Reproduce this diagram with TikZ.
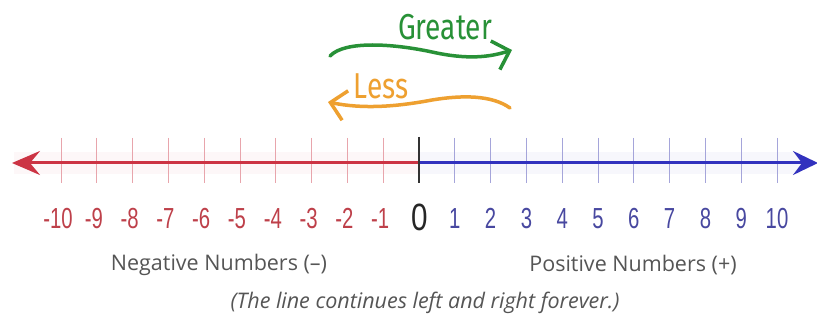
\documentclass[tikz,border=0pt]{standalone}
\usepackage{fontspec}
\setmainfont{Open Sans}
\newfontfamily\numfont[FakeStretch=0.7]{Liberation Sans}
\newfontfamily\zerofont[FakeStretch=0.78]{Liberation Sans}
\newfontfamily\wordfont[FakeStretch=0.78]{Fira Sans}
\usetikzlibrary{arrows.meta}
\definecolor{negred}{RGB}{204,52,68}
\definecolor{posblue}{RGB}{50,50,190}
\definecolor{negtick}{RGB}{232,165,172}
\definecolor{postick}{RGB}{165,165,218}
\definecolor{neglab}{RGB}{190,64,74}
\definecolor{poslab}{RGB}{72,72,160}
\definecolor{greytext}{RGB}{85,85,85}
\definecolor{gtgreen}{RGB}{40,145,55}
\definecolor{lsorange}{RGB}{238,160,48}
\tikzset{
  axisneg/.style={draw=negred,line width=3pt},
  axispos/.style={draw=posblue,line width=3pt},
  tickneg/.style={draw=negtick,line width=1pt},
  tickpos/.style={draw=postick,line width=1pt},
  labneg/.style={text=neglab,font=\numfont\fontsize{29}{29}\selectfont,anchor=base,inner sep=0pt},
  labpos/.style={text=poslab,font=\numfont\fontsize{29}{29}\selectfont,anchor=base,inner sep=0pt},
  labzero/.style={text=black!85,font=\zerofont\fontsize{38}{38}\selectfont,anchor=base,inner sep=0pt},
  note/.style={text=greytext,font=\fontsize{21.5}{24}\selectfont,inner sep=0pt},
  word/.style={font=\wordfont\fontsize{36}{36}\selectfont,inner sep=0pt},
  wavy/.style={line width=3.5pt,line cap=round,line join=round}
}
\begin{document}
\begin{tikzpicture}[x=1pt,y=-1pt]
\useasboundingbox (0,0) rectangle (817,326);
\fill[white] (0,0) rectangle (817,326);
% halo
\fill[negred!4] (14,152) rectangle (419,174);
\fill[posblue!4] (419,152) rectangle (800,174);
% ticks
\foreach \i in {1,...,10}{
  \draw[tickneg] (419-35.8*\i,138) -- (419-35.8*\i,183);
  \draw[tickpos] (419+35.8*\i,138) -- (419+35.8*\i,183);
}
\coordinate (zero) at (419,163);
\coordinate (lend) at (12,163);
\coordinate (rend) at (818,163);
\draw[axisneg,{Stealth[length=28pt,width=24pt,inset=10pt]}-] (lend) -- (zero);
\draw[axispos,-{Stealth[length=25pt,width=24pt,inset=9pt]}] (zero) -- (rend);
\draw[black!80,line width=1.5pt] (419,137) -- (419,183);
% labels
\foreach \i in {1,...,10}{
  \node[labneg] (n\i) at (416-35.8*\i,228) {-\i};
  \node[labpos] (p\i) at (419+35.8*\i,228) {\i};
}
\node[labzero] (z) at (420,230) {0};
\node[note] (neg) at (219,265) {Negative Numbers (–)};
\node[note] (pos) at (633,265) {Positive Numbers (+)};
\node[note,font=\itshape\fontsize{21.5}{24}\selectfont] (cont) at (425,303) {(The line continues left and right forever.)};
% greater / less
\node[word,text=gtgreen] (greater) at (445,27) {Greater};
\node[word,text=lsorange] (less) at (381,86) {Less};
\coordinate (g1) at (330,56);
\coordinate (g2) at (512,50);
\draw[wavy,draw=gtgreen,-{Straight Barb[length=15pt,width=30pt,line width=3.5pt]}]
  (g1) .. controls (345,40) and (395,44) .. (432,52) .. controls (468,60) and (490,57) .. (g2);
\coordinate (l1) at (510,108);
\coordinate (l2) at (328,102);
\draw[wavy,draw=lsorange,-{Straight Barb[length=15pt,width=30pt,line width=3.5pt]}]
  (l1) .. controls (492,95) and (462,95) .. (432,100) .. controls (395,107) and (362,109) .. (l2);
\end{tikzpicture}
\end{document}
